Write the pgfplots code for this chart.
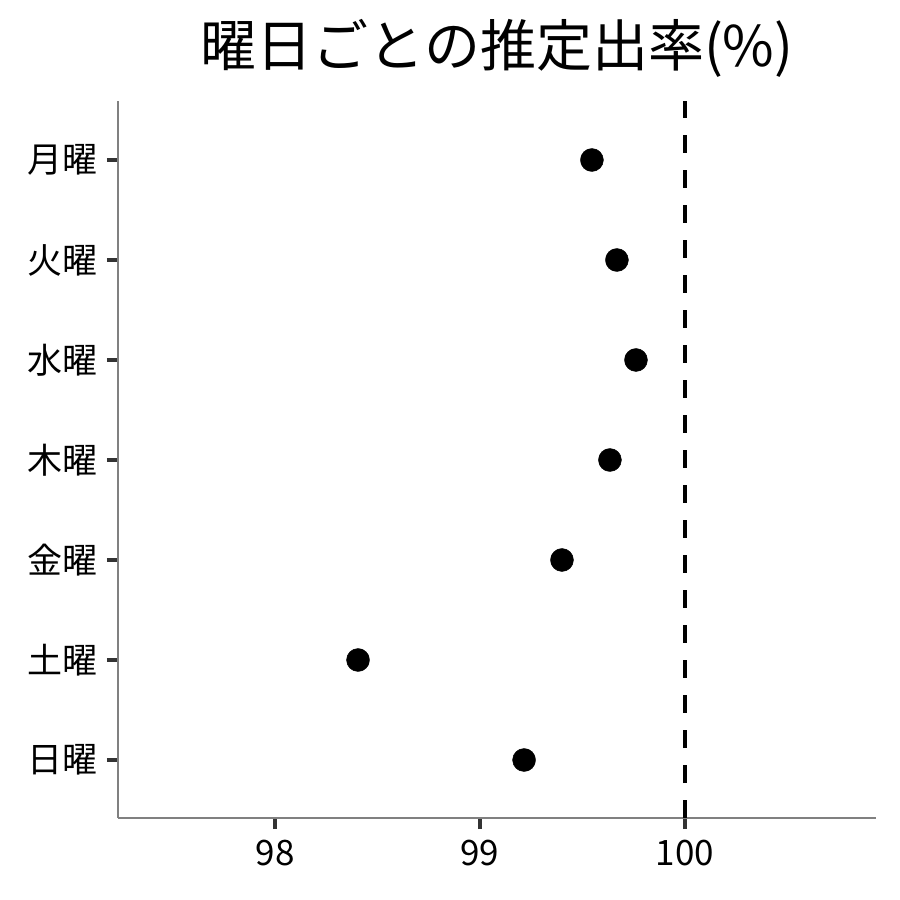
\documentclass[border=0pt]{standalone}
\usepackage{fontspec}
\setmainfont{Noto Sans CJK JP}
\usepackage{pgfplots}
\pgfplotsset{compat=1.18}

\pgfplotstableread{
y x
7 99.546
6 99.668
5 99.761
4 99.634
3 99.400
2 98.405
1 99.215
}\rates

\begin{document}
\begin{tikzpicture}[x=1bp,y=1bp]
\path[use as bounding box] (-118bp,-82bp) rectangle (782bp,818bp);
\begin{axis}[
    at={(0,0)}, anchor=south west,
    scale only axis,
    width=758bp, height=717bp,
    xmin=97.234, xmax=100.932,
    ymin=0.42, ymax=7.59,
    axis x line*=bottom, axis y line*=left,
    axis line style={draw=gray, line width=1.2bp, -},
    xtick={98,99,100},
    ytick={1,2,3,4,5,6,7},
    yticklabels={日曜,土曜,金曜,木曜,水曜,火曜,月曜},
    tick align=outside,
    major tick length=11bp,
    tick style={draw=black!80, line width=3.2bp},
    ticklabel style={font=\fontsize{35bp}{40bp}\selectfont, text=black},
    /pgf/number format/assume math mode=true,
    xticklabel style={yshift=-8bp},
    yticklabel style={xshift=-6bp},
    title={曜日ごとの推定出率(\%)},
    title style={font=\fontsize{56bp}{62bp}\selectfont, yshift=14bp},
    clip=false,
]
\addplot[only marks, mark=*, mark size=11.5bp, black] table[x=x, y=y] {\rates};
\addplot[black, line width=3.5bp, dash pattern=on 18bp off 17bp] coordinates {(100,0.42) (100,7.59)};
\end{axis}
\end{tikzpicture}
\end{document}
